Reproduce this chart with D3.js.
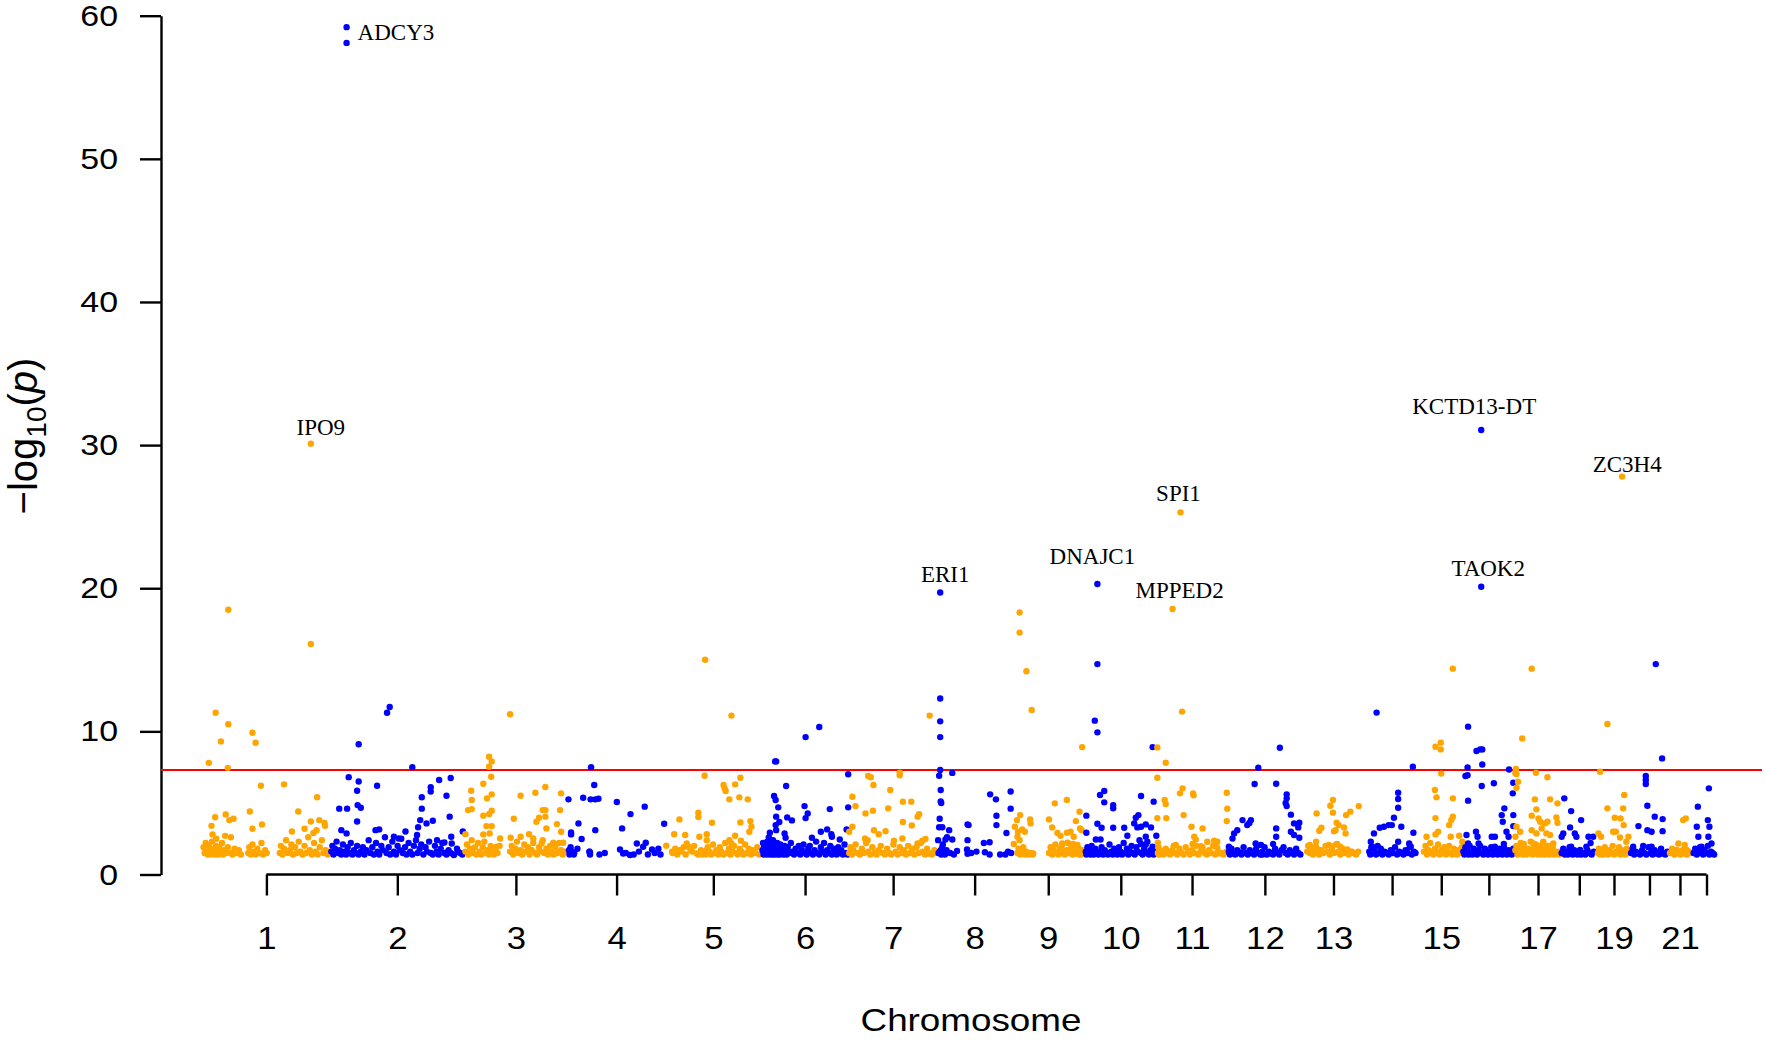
<!DOCTYPE html>
<html>
<head>
<meta charset="utf-8">
<script src="https://cdn.jsdelivr.net/npm/d3@7"></script>
<style>
  html, body { margin: 0; padding: 0; background: #fff; }
  svg { display: block; }
</style>
</head>
<body>
<div id="chart"></div>
<script>
// ---- data ----
// chromosome spans (Mb, as laid out in the plot)
const chrLengths = [245, 253, 198, 185, 183, 166, 169, 141, 139, 137, 134, 143, 118, 105, 82, 99, 88, 69, 63, 72, 44, 57];
const tickLabels = ['1', '2', '3', '4', '5', '6', '7', '8', '9', '10', '11', '12', '13', '', '15', '', '17', '', '19', '', '21', ''];
const yTicks = [0, 10, 20, 30, 40, 50, 60];
const threshold = 7.3; // -log10(5e-8)

// [position in chromosome (Mb), -log10(p)]
const chr1 = [
  [3,1.9],[5,1.5],[7,2.2],[9,1.6],[11,1.4],[13,2.0],[15,1.7],[17,1.4],[19,2.3],[21,1.5],[23,1.8],[25,1.4],[27,2.0],[29,1.6],[31,1.4],[33,1.9],[35,1.5],[38,2.2],[40,1.4],[42,1.7],[46,1.5],[49,1.9],[54,1.5],[58,1.4],[62,1.8],[66,1.5],[70,1.7],[74,1.4],
  [88,1.5],[90,1.9],[93,1.4],[96,2.1],[98,1.6],[102,1.4],[105,1.8],[109,1.5],[113,2.2],[116,1.4],[120,1.7],[123,1.5],
  [148,1.5],[150,2.0],[153,1.4],[156,1.8],[160,2.4],[163,1.5],[167,1.7],[170,2.1],[173,1.4],[177,1.9],[180,1.5],[184,2.3],[187,1.6],[191,1.4],[195,2.0],[198,1.5],[202,2.6],[205,1.7],[209,1.4],[213,2.2],[216,1.6],[220,1.4],[224,1.9],[228,2.4],[231,1.5],[235,1.7],[239,1.4],[242,1.6],
  [13,7.8],[18,3.4],[20,2.8],[25,4.0],[26,11.3],[27,2.5],[36,9.3],[44,2.7],[45,4.2],[49,7.45],[50,10.5],[50,18.5],[52,3.8],[55,2.6],[60,3.9],[91,4.4],[96,9.9],[96,3.2],[102,9.2],[112,6.2],[114,3.5],[156,6.3],[171,3.0],[183,4.4],[195,3.2],[207,3.7],[207,30.1],[207,16.1],[212,2.9],[218,3.1],[219,5.4],[223,3.8],[233,3.6],[234,3.4]
];
const chr2 = [
  [1,1.6],[3,2.0],[5,1.4],[8,1.8],[11,2.3],[14,1.5],[17,1.7],[20,1.4],[23,2.1],[26,1.6],[29,1.4],[32,1.9],[35,1.5],[38,2.2],[41,1.4],[44,1.7],[47,1.5],[50,2.0],[53,1.4],[57,1.6],[61,1.9],[64,1.4],[68,1.7],[72,2.4],[75,1.5],[79,1.9],[82,1.4],[86,2.2],[89,1.6],[92,1.4],[96,2.0],[99,1.7],[103,2.6],[106,1.5],[110,1.9],[113,1.4],[117,2.3],[120,1.6],[124,1.4],[127,2.0],[131,1.7],[134,2.5],[137,1.5],[141,1.9],[144,1.4],[148,2.2],[151,1.6],[155,1.4],[158,2.0],[162,2.4],[165,1.5],[169,1.8],[172,2.1],[176,1.4],[180,1.9],[183,1.6],[187,2.3],[190,1.5],[194,1.4],[198,2.0],[201,1.6],[205,1.4],[209,1.8],[212,2.2],[216,1.5],[220,1.4],[224,1.7],[228,1.5],[234,1.4],[240,1.8],[246,1.5],[250,1.4],
  [16,4.6],[20,3.1],[30,59.2],[30,58.1],[30,2.87],[31,4.6],[34,6.8],[50,5.85],[50,3.7],[51,4.85],[53,9.1],[53,6.5],[57,4.66],[85,3.1],[88,6.2],[92,3.15],[107,11.3],[112,11.7],[120,2.64],[129,2.52],[142,3.0],[155,7.5],[164,2.76],[166,3.3],[170,3.8],[173,5.4],[173,4.6],[182,3.57],[190,6.1],[190,5.8],[194,3.76],[202,2.4],[206,6.6],[216,2.24],[220,5.5],[220,1.52],[226,4.04],[228,6.74],[229,2.64],[230,2.17],[234,1.36],[242,1.6],[251,3.0]
];
const chr3 = [
  [3,1.6],[6,2.1],[9,1.4],[12,1.8],[15,2.4],[18,1.5],[21,1.9],[24,1.4],[27,2.2],[30,1.6],[33,1.4],[36,1.9],[39,2.3],[42,1.5],[45,1.7],[48,1.4],[51,2.0],[54,1.6],[57,1.4],[60,1.8],[64,1.5],[68,2.0],[88,1.6],[91,2.0],[94,1.4],[98,1.8],[101,2.3],[104,1.5],[108,1.7],[111,1.4],[115,2.1],[118,1.6],[122,1.9],[125,1.4],[129,1.7],[132,2.2],[136,1.5],[139,1.4],[143,1.9],[146,1.6],[150,2.4],[153,1.5],[157,1.8],[160,1.4],[164,2.0],[167,1.6],[171,1.4],[174,1.9],[178,1.5],[181,2.2],[185,1.7],[188,1.4],[192,1.6],
  [3,2.82],[8,4.5],[14,5.85],[15,5.2],[15,4.57],[37,6.34],[37,4.11],[37,2.8],[43,3.38],[44,5.32],[48,8.23],[48,7.53],[48,4.22],[49,2.87],[52,6.83],[53,7.9],[53,5.6],[53,4.46],[53,3.38],[62,1.94],[69,2.52],[88,11.2],[89,2.57],[95,3.9],[108,5.5],[108,2.64],[124,2.82],[132,2.52],[136,5.71],[138,3.69],[143,3.97],[148,2.17],[150,4.5],[155,6.11],[155,4.5],[155,4.04],[157,3.22],[170,2.22],[177,3.52],[183,4.5],[185,5.67],[185,2.99],[189,2.22]
];
const chr4 = [
  [1,5.25],[2,1.7],[3,1.4],[5,1.9],[6,2.94],[6,2.8],[6,1.5],[8,1.6],[11,1.4],[12,1.5],[18,1.8],[20,3.57],[26,2.48],[29,5.36],[41,1.59],[41,1.6],[42,1.52],[42,1.4],[43,5.25],[44,7.5],[50,6.25],[52,5.25],[52,3.1],[58,5.29],[60,1.4],[70,1.5],[93,5.06],[99,1.75],[103,3.22],[105,1.47],[110,1.5],[118,1.36],[119,4.22],[125,1.4],[131,2.17],[135,1.6],[143,1.94],[146,4.74],[148,2.22],[152,1.4],[160,1.75],[165,1.5],[172,1.8],[176,1.4],[183,3.55]
];
const chr5 = [
  [14,1.5],[19,1.8],[23,1.4],[31,1.6],[35,1.9],[39,1.4],[51,1.6],[55,2.0],[63,1.4],[68,1.7],[73,1.5],[77,1.4],[81,1.9],[84,1.6],[87,1.4],[91,2.1],[94,1.5],[97,1.7],[101,1.4],[104,1.9],[107,1.6],[111,1.4],[114,2.2],[118,1.5],[121,1.8],[124,1.4],[128,1.6],[131,2.0],[135,1.5],[138,1.4],[142,1.8],[145,1.6],[149,1.4],[152,2.1],[156,1.5],[159,1.8],[163,1.4],[167,1.7],[171,1.5],[175,1.9],[179,1.4],
  [2,2.01],[13,1.59],[17,2.82],[27,3.85],[29,1.71],[38,2.76],[41,2.17],[44,1.94],[48,1.71],[60,1.47],[63,4.32],[63,4.01],[65,2.64],[70,1.4],[75,6.9],[76,15.0],[79,2.82],[79,2.4],[79,1.71],[89,3.62],[111,6.25],[113,6.02],[115,5.83],[122,5.25],[122,2.4],[126,11.1],[126,2.17],[133,6.3],[133,2.71],[141,5.39],[143,6.76],[143,3.64],[144,2.36],[157,5.25],[160,2.99],[162,3.73],[164,3.34]
];
const chr6 = [
  [2,1.7],[3,2.2],[4,1.4],[5,1.9],[6,1.5],[8,2.1],[9,1.6],[10,1.4],[11,2.3],[12,1.8],[14,1.5],[15,2.0],[16,1.4],[17,1.7],[18,2.2],[19,1.5],[20,1.9],[21,1.4],[22,2.4],[23,1.6],[24,1.8],[25,1.4],[26,2.0],[27,1.5],[28,1.7],[30,2.2],[31,1.4],[32,1.9],[33,1.6],[35,1.4],[36,2.1],[38,1.5],[40,1.8],[42,1.4],[44,2.0],[46,1.6],[48,1.4],[50,1.9],[53,1.5],[56,2.2],[59,1.6],[62,1.4],[65,1.8],[68,1.5],[71,2.0],[74,1.4],[77,1.7],[80,2.1],[83,1.5],[86,1.4],[89,1.8],[92,2.0],[95,1.5],[98,1.4],[101,1.7],[104,2.3],[107,1.5],[110,1.4],[113,1.9],[116,1.6],[119,2.2],[122,1.4],[125,1.7],[128,1.5],[131,2.0],[134,1.4],[137,1.8],[140,1.6],[143,1.4],[146,1.9],[149,1.5],[152,1.7],[155,1.4],[158,2.1],[161,1.5],[164,1.4],
  [14,2.59],[16,2.92],[24,5.48],[26,7.9],[27,5.2],[27,3.45],[28,7.9],[28,4.04],[28,3.1],[32,4.69],[34,3.67],[44,2.87],[46,2.57],[47,6.18],[49,3.99],[58,3.78],[82,4.78],[84,9.6],[84,3.94],[88,4.27],[96,2.57],[110,10.3],[113,2.99],[125,3.15],[130,4.57],[133,2.82],[134,2.64],[149,2.45],[162,3.15],[165,7.0],[165,4.69]
];
const chr7 = [
  [1,1.5],[3,1.9],[6,1.4],[9,1.7],[13,2.1],[17,1.5],[21,1.4],[25,1.8],[29,1.5],[33,2.2],[37,1.6],[41,1.4],[45,1.9],[49,1.5],[53,1.4],[57,1.7],[61,2.0],[65,1.5],[69,1.4],[73,1.8],[77,1.5],[81,1.4],[85,2.1],[89,1.6],[93,1.4],[97,1.9],[101,1.5],[105,1.7],[109,1.4],[113,2.0],[117,1.5],[121,1.8],[125,1.4],[129,1.9],[133,1.5],[137,2.2],[141,1.6],[145,1.4],[149,1.8],[153,1.5],[158,1.4],[163,1.7],[167,1.5],
  [1,2.99],[7,5.43],[7,3.34],[13,4.78],[31,2.52],[32,4.27],[36,2.4],[37,6.88],[42,6.79],[46,4.46],[47,6.25],[48,3.1],[57,2.82],[70,3.03],[75,4.62],[79,5.9],[86,2.36],[97,7.11],[97,6.93],[102,2.52],[103,5.09],[103,3.67],[119,5.09],[120,3.43],[131,4.04],[131,2.17],[134,4.22],[140,2.36],[146,2.48],[152,1.47],[154,11.1],[156,1.47]
];
const chr8 = [
  [1,2.4],[2,1.5],[3,6.9],[3,3.3],[4,3.9],[4,1.6],[5,19.7],[5,12.3],[5,10.7],[5,9.6],[5,7.3],[6,5.9],[6,5.1],[6,1.7],[7,5.0],[7,1.4],[9,3.3],[9,1.9],[10,2.1],[12,1.5],[14,1.4],[15,2.45],[17,1.7],[18,2.6],[22,3.1],[24,1.5],[28,7.1],[28,2.45],[31,1.4],[37,1.65],[56,1.75],[57,3.5],[57,2.4],[57,1.45],[59,3.45],[64,1.5],[74,1.6],[88,2.2],[90,1.55],[99,2.25],[99,1.4],[100,5.6],[111,5.25],[112,4.1],[112,3.45],[119,1.4],[129,1.4],[131,2.9],[134,1.6],[139,5.8],[139,4.6],[140,1.5]
];
const chr9 = [
  [11,1.5],[13,1.8],[16,1.4],[19,1.6],[22,1.9],[25,1.4],[28,1.6],[32,1.4],[36,1.5],[40,1.4],[71,1.5],[74,1.9],[77,1.4],[80,1.7],[83,2.1],[86,1.5],[89,1.4],[92,1.8],[95,2.0],[98,1.5],[101,1.4],[104,1.7],[107,2.2],[110,1.5],[113,1.9],[116,1.4],[119,1.6],[122,2.0],[125,1.5],[128,1.8],[131,1.4],[134,1.7],[137,1.5],
  [4,2.13],[6,3.34],[10,3.8],[11,2.64],[12,2.99],[15,18.3],[15,16.9],[15,2.4],[16,4.15],[20,3.15],[25,2.99],[27,1.47],[28,14.2],[35,3.85],[36,3.57],[36,1.47],[38,11.5],[41,1.47],[71,3.85],[77,3.29],[79,1.47],[82,4.97],[87,2.9],[93,2.7],[93,1.71],[96,2.17],[105,5.2],[105,2.92],[106,2.22],[112,2.99],[117,2.13],[118,2.64],[122,3.73],[122,1.47],[125,2.06],[128,1.4],[129,4.39],[130,3.22],[133,3.1],[134,8.9]
];
const chr10 = [
  [2,1.6],[3,1.4],[5,1.9],[7,1.5],[9,1.7],[11,1.4],[13,2.0],[15,1.5],[17,1.4],[20,1.8],[23,1.5],[26,1.4],[29,1.6],[32,1.9],[35,1.4],[38,1.7],[41,1.5],[44,1.4],[47,2.1],[50,1.6],[53,1.4],[56,1.8],[59,1.5],[62,1.4],[65,1.9],[68,1.6],[71,1.4],[74,2.2],[77,1.5],[80,1.8],[83,1.4],[86,1.6],[89,2.0],[92,1.5],[95,1.4],[98,1.9],[101,1.6],[104,2.4],[107,1.5],[110,1.4],[113,1.8],[116,2.1],[119,1.5],[122,1.4],[125,1.7],[128,1.5],[131,1.4],[134,1.6],
  [3,4.11],[3,2.92],[19,10.75],[21,2.45],[24,20.3],[24,14.7],[24,9.93],[24,3.55],[29,5.55],[30,2.45],[32,3.27],[37,5.83],[37,5.04],[54,4.85],[54,4.62],[54,3.27],[75,3.27],[81,2.71],[94,3.57],[97,3.97],[100,3.29],[102,4.15],[107,5.48],[107,3.34],[107,2.13],[116,3.5],[116,2.64],[119,2.29],[126,3.29],[129,8.9],[129,1.94],[131,5.09],[136,2.71]
];
const chr11 = [
  [2,1.5],[3,1.9],[4,1.4],[6,1.7],[9,1.5],[13,1.4],[17,1.8],[21,1.5],[25,1.4],[29,1.7],[32,2.0],[35,1.5],[39,1.4],[43,1.8],[47,1.5],[51,1.4],[55,1.9],[59,1.6],[63,1.4],[67,1.7],[71,1.5],[75,2.0],[79,1.4],[83,1.6],[87,1.9],[91,1.5],[95,1.4],[99,1.7],[103,1.5],[107,2.0],[111,1.4],[116,1.6],[122,1.5],[127,1.4],[132,1.6],
  [1,8.88],[1,6.76],[1,3.94],[2,2.22],[15,5.2],[17,7.81],[17,4.92],[18,3.94],[30,18.55],[36,2.06],[44,5.67],[45,25.3],[48,11.38],[49,6.02],[51,4.15],[66,3.34],[68,2.13],[69,5.67],[70,5.53],[71,2.64],[74,2.45],[84,1.98],[87,3.22],[96,2.29],[109,2.36],[112,1.98],[115,2.29],[115,1.85],[120,1.47],[133,5.71],[133,3.73],[134,4.6]
];
const chr12 = [
  [3,1.6],[5,1.4],[8,1.8],[11,1.5],[15,1.4],[19,1.7],[23,1.5],[27,1.4],[31,1.9],[35,1.5],[39,1.4],[43,1.7],[47,1.5],[51,1.4],[55,1.8],[59,1.5],[63,1.4],[67,1.6],[71,1.9],[75,1.4],[79,1.6],[83,1.5],[87,1.4],[91,1.8],[95,1.5],[99,1.4],[103,1.7],[107,1.9],[111,1.5],[115,1.4],[119,1.7],[123,1.5],[127,1.4],[131,1.8],[135,1.5],[139,1.4],
  [3,1.94],[4,1.52],[10,2.52],[13,2.87],[19,3.1],[26,1.52],[29,3.8],[38,3.45],[42,3.6],[45,3.8],[45,1.59],[51,1.47],[52,6.32],[54,2.17],[59,7.46],[64,2.06],[67,1.4],[79,1.47],[87,2.13],[93,6.34],[93,3.22],[93,2.64],[100,8.86],[111,5.0],[113,5.6],[113,5.32],[113,4.78],[121,4.18],[121,2.99],[127,3.57],[127,2.76],[135,3.29],[137,3.62],[137,2.57]
];
const chr13 = [
  [9,1.6],[11,2.0],[14,1.5],[17,1.8],[20,1.4],[23,1.6],[26,1.9],[29,1.5],[32,1.4],[36,1.7],[40,1.5],[44,2.0],[48,1.6],[52,1.4],[56,1.8],[60,1.5],[64,2.1],[68,1.6],[72,1.4],[76,1.8],[80,1.5],[84,1.7],[88,1.4],[92,1.6],[97,1.5],[102,1.4],[106,1.6],
  [14,2.06],[25,1.94],[26,2.29],[27,4.27],[32,3.06],[32,1.71],[36,3.27],[50,2.06],[53,4.8],[56,1.98],[58,5.2],[58,4.32],[60,3.03],[63,3.1],[65,3.62],[66,2.13],[69,3.45],[72,1.94],[79,3.29],[82,2.87],[83,4.15],[85,1.75],[91,4.39],[94,1.59],[107,4.78]
];
const chr14 = [
  [9,1.6],[11,1.4],[13,1.9],[16,1.5],[19,1.7],[22,1.4],[25,2.0],[28,1.5],[31,1.8],[34,1.4],[38,1.6],[42,1.5],[46,1.4],[50,1.7],[54,1.5],[58,1.9],[62,1.4],[66,1.6],[70,1.5],[74,1.4],[78,1.7],[82,1.5],[86,1.9],[90,1.4],[94,1.6],[97,1.5],
  [12,2.29],[15,1.94],[18,2.87],[23,11.31],[29,3.27],[37,3.34],[46,3.45],[52,3.45],[56,3.97],[64,5.71],[64,5.27],[64,4.66],[64,2.29],[70,3.34],[85,2.17],[88,1.94],[92,7.53],[93,2.92]
];
const chr15 = [
  [8,1.6],[11,2.0],[14,1.4],[17,1.7],[20,2.2],[23,1.5],[26,1.4],[29,1.8],[32,1.5],[35,2.1],[38,1.4],[41,1.7],[44,1.5],[47,1.9],[50,1.4],[53,1.6],[56,2.0],[59,1.5],[62,1.4],[65,1.8],[68,1.5],[71,1.4],[74,1.7],[77,1.5],[80,1.9],
  [13,2.64],[29,5.9],[30,8.93],[30,3.94],[30,2.8],[32,5.39],[35,2.99],[40,9.21],[40,8.74],[41,7.05],[56,3.45],[59,2.64],[60,3.8],[63,14.38],[63,5.32],[63,4.04],[75,2.71],[81,2.29]
];
const chr16 = [
  [1,1.6],[3,1.4],[5,1.9],[7,1.5],[9,1.7],[11,1.4],[13,2.0],[15,1.5],[18,1.4],[21,1.8],[24,1.5],[27,1.4],[30,1.7],[33,2.0],[36,1.5],[39,1.4],[42,1.8],[45,1.5],[48,1.4],[51,1.6],[54,1.9],[57,1.4],[60,1.7],[63,1.5],[66,1.4],[69,1.8],[72,1.5],[75,1.4],[78,1.9],[81,1.6],[84,1.4],[87,1.7],[90,1.5],[93,1.4],[96,1.8],[98,1.5],
  [5,6.88],[7,2.76],[7,1.82],[9,7.48],[9,6.93],[9,1.47],[10,10.33],[10,5.16],[10,2.17],[25,2.99],[26,8.63],[28,2.64],[30,2.17],[33,8.74],[35,31.06],[35,20.1],[36,6.18],[37,8.74],[37,7.69],[55,2.64],[59,6.37],[61,2.64],[61,1.94],[74,4.15],[76,3.69],[78,2.13],[79,4.62],[83,2.99],[87,2.64],[88,7.34],[95,5.67],[96,6.41],[96,4.15],[96,3.38]
];
const chr17 = [
  [1,1.7],[3,2.0],[5,1.4],[7,1.8],[9,1.5],[11,2.2],[13,1.6],[15,1.4],[17,1.9],[19,1.5],[22,1.4],[25,1.8],[28,1.5],[30,2.3],[32,1.6],[34,1.4],[36,1.9],[38,1.5],[40,2.1],[42,1.7],[44,1.4],[46,2.0],[48,1.5],[50,1.8],[52,1.4],[54,2.2],[56,1.6],[58,1.4],[60,1.9],[62,1.5],[64,2.0],[66,1.4],[68,1.7],[70,1.5],[72,1.9],[75,1.4],[78,1.6],[81,1.5],[84,1.4],[86,1.6],
  [1,7.07],[1,2.64],[2,7.37],[3,7.02],[3,6.06],[3,3.34],[6,6.48],[10,2.99],[14,9.51],[17,2.13],[32,14.38],[32,4.11],[32,3.1],[35,2.17],[38,5.25],[40,7.11],[41,4.55],[41,2.87],[45,3.92],[48,3.69],[51,3.22],[54,2.29],[57,3.57],[60,2.87],[62,6.79],[62,3.69],[67,5.25],[67,2.76],[73,2.17],[79,3.99],[81,4.97],[81,3.62]
];
const chr18 = [
  [1,1.5],[4,1.8],[7,1.4],[10,1.6],[13,1.4],[16,1.9],[19,1.5],[22,1.4],[25,1.7],[28,1.5],[31,1.4],[34,1.6],[38,1.4],[42,1.5],[46,1.4],[50,1.7],[54,1.5],[58,1.4],[62,1.6],
  [1,2.64],[4,2.87],[6,5.32],[17,3.29],[19,4.43],[19,1.94],[26,2.87],[29,2.64],[36,1.71],[38,3.8],[48,1.94],[52,2.64],[56,2.2],[61,2.64]
];
const chr19 = [
  [1,1.5],[3,1.8],[5,1.4],[8,1.6],[11,1.4],[14,1.9],[17,1.5],[20,1.4],[23,1.7],[26,1.5],[29,2.0],[32,1.4],[35,1.6],[38,1.5],[41,1.9],[44,1.4],[47,1.7],[50,1.5],[53,1.4],[56,1.8],[59,1.5],
  [2,2.87],[5,7.18],[7,2.64],[19,10.51],[19,4.62],[30,2.99],[33,3.97],[35,2.99],[43,2.59],[44,3.92],[47,27.8],[49,4.62],[50,3.45],[51,5.55],[55,2.29],[59,2.64]
];
const chr20 = [
  [1,1.5],[4,1.8],[7,1.4],[10,1.6],[14,1.5],[18,1.4],[22,1.7],[26,1.5],[30,1.4],[34,1.9],[38,1.5],[42,1.4],[46,1.7],[50,1.5],[54,1.4],[58,1.8],[62,1.5],[66,1.4],[70,1.6],
  [5,1.94],[15,3.38],[24,2.0],[29,6.88],[29,6.6],[29,6.32],[32,4.8],[32,3.1],[40,2.99],[40,1.94],[46,4.04],[46,1.47],[48,14.7],[59,1.47],[60,8.11],[61,3.87],[61,3.03]
];
const chr21 = [
  [3,1.5],[7,1.8],[11,1.4],[15,1.6],[19,1.5],[23,1.4],[27,1.7],[31,1.5],[35,1.4],[39,1.6],[42,1.5],
  [9,1.7],[16,1.71],[19,2.17],[25,1.47],[28,3.8],[31,2.06],[33,3.92],[35,1.71]
];
const chr22 = [
  [4,1.5],[7,1.8],[10,1.4],[13,1.6],[16,1.9],[19,1.5],[22,1.4],[25,1.7],[28,1.5],[31,2.0],[34,1.4],[37,1.6],[40,1.5],[43,1.4],
  [10,3.34],[12,4.74],[13,2.64],[19,1.94],[22,1.59],[31,3.8],[32,2.64],[33,6.02],[34,3.34],[38,2.17]
];
const chromosomes = [chr1, chr2, chr3, chr4, chr5, chr6, chr7, chr8, chr9, chr10, chr11,
  chr12, chr13, chr14, chr15, chr16, chr17, chr18, chr19, chr20, chr21, chr22];

// [gene, chromosome, position (Mb), -log10(p)]
const genes = [
  ['ADCY3', 2, 30, 59.2],
  ['IPO9', 1, 207, 30.1],
  ['ERI1', 8, 5, 19.7],
  ['DNAJC1', 10, 24, 20.3],
  ['SPI1', 11, 45, 25.3],
  ['MPPED2', 11, 30, 18.55],
  ['KCTD13-DT', 16, 35, 31.06],
  ['TAOK2', 16, 35, 20.1],
  ['ZC3H4', 19, 47, 27.8]
];

// ---- drawing ----
const width = 1765, height = 1040;
const sans = '"Liberation Sans", Arial, Helvetica, sans-serif';
const serif = '"Liberation Serif", "Times New Roman", serif';
const colors = ['#FFA500', '#0000FF'];

const svg = d3.select('#chart').append('svg')
  .attr('width', width)
  .attr('height', height)
  .style('background', '#fff');

// cumulative offset of each chromosome
const offsets = chrLengths.map((d, i) => d3.sum(chrLengths.slice(0, i)));
const total = d3.sum(chrLengths);
const centers = chrLengths.map((d, i) => offsets[i] + d / 2);

const x = d3.scaleLinear().domain([0, total]).range([202, 1721.5]);
const y = d3.scaleLinear().domain([0, 60]).range([874.5, 15.7]);

// R text looks a bit wider than Liberation Sans
function widen(sel, k) {
  sel.each(function () {
    const w = this.getComputedTextLength();
    d3.select(this).attr('textLength', w * k).attr('lengthAdjust', 'spacingAndGlyphs');
  });
}

// y axis
const yAxis = svg.append('g')
  .attr('transform', 'translate(161,0)')
  .call(d3.axisLeft(y).tickValues(yTicks).tickSize(21).tickSizeOuter(0).tickPadding(22));
yAxis.selectAll('path, line').attr('stroke', '#000').attr('stroke-width', 2.4);
yAxis.selectAll('text')
  .attr('font-family', sans)
  .attr('font-size', 30)
  .attr('fill', '#000')
  .call(widen, 1.13);

// x axis (line only spans first to last tick, like base R)
const xAxis = svg.append('g')
  .attr('transform', `translate(0,${y(0)})`)
  .call(d3.axisBottom(x).tickValues(centers).tickFormat((d, i) => tickLabels[i])
    .tickSize(21).tickSizeOuter(0).tickPadding(31));
xAxis.select('.domain').remove();
xAxis.append('line')
  .attr('x1', x(centers[0])).attr('x2', x(centers[centers.length - 1]))
  .attr('y1', 0).attr('y2', 0)
  .attr('stroke', '#000').attr('stroke-width', 2.4);
xAxis.selectAll('line').attr('stroke', '#000').attr('stroke-width', 2.4);
xAxis.selectAll('text')
  .attr('font-family', sans)
  .attr('font-size', 31)
  .attr('fill', '#000')
  .call(widen, 1.12);

// axis titles
svg.append('text')
  .attr('x', 971).attr('y', 1031)
  .attr('text-anchor', 'middle')
  .attr('font-family', sans)
  .attr('font-size', 32)
  .text('Chromosome')
  .call(widen, 1.15);

const yTitle = svg.append('text')
  .attr('transform', 'translate(37,436) rotate(-90)')
  .attr('text-anchor', 'middle')
  .attr('font-family', sans)
  .attr('font-size', 40);
yTitle.append('tspan').text('\u2212log');
yTitle.append('tspan').attr('font-size', 28).attr('dy', 9).text('10');
yTitle.append('tspan').attr('dy', -9).text('(');
yTitle.append('tspan').attr('font-style', 'italic').text('p');
yTitle.append('tspan').text(')');

// genome-wide significance line
svg.append('line')
  .attr('x1', 161).attr('x2', 1762)
  .attr('y1', y(threshold)).attr('y2', y(threshold))
  .attr('stroke', '#FF0000')
  .attr('stroke-width', 2.2);

// points, chromosome by chromosome
chromosomes.forEach((pts, i) => {
  svg.append('g')
    .selectAll('circle')
    .data(pts)
    .enter()
    .append('circle')
    .attr('cx', d => x(offsets[i] + d[0]))
    .attr('cy', d => y(d[1]))
    .attr('r', 3.2)
    .attr('fill', colors[i % 2]);
});

// gene labels: above the point, nudged like the original's label placement
const labelNudge = {
  'IPO9': [10, 2], 'ERI1': [5, 0], 'DNAJC1': [-5, -9], 'SPI1': [-2, 0], 'MPPED2': [7, 0],
  'KCTD13-DT': [-7, -5], 'TAOK2': [7, 0], 'ZC3H4': [5, 6]
};
svg.append('g')
  .selectAll('text')
  .data(genes)
  .enter()
  .append('text')
  .attr('x', d => {
    const px = x(offsets[d[1] - 1] + d[2]);
    if (d[0] === 'ADCY3') return px + 11;
    return px + (labelNudge[d[0]] || [0, 0])[0];
  })
  .attr('y', d => {
    const py = y(d[3]);
    if (d[0] === 'ADCY3') return py + 13;
    return py - 11 + (labelNudge[d[0]] || [0, 0])[1];
  })
  .attr('text-anchor', d => d[0] === 'ADCY3' ? 'start' : 'middle')
  .attr('font-family', serif)
  .attr('font-size', 23)
  .attr('fill', '#000')
  .text(d => d[0]);
</script>
</body>
</html>
